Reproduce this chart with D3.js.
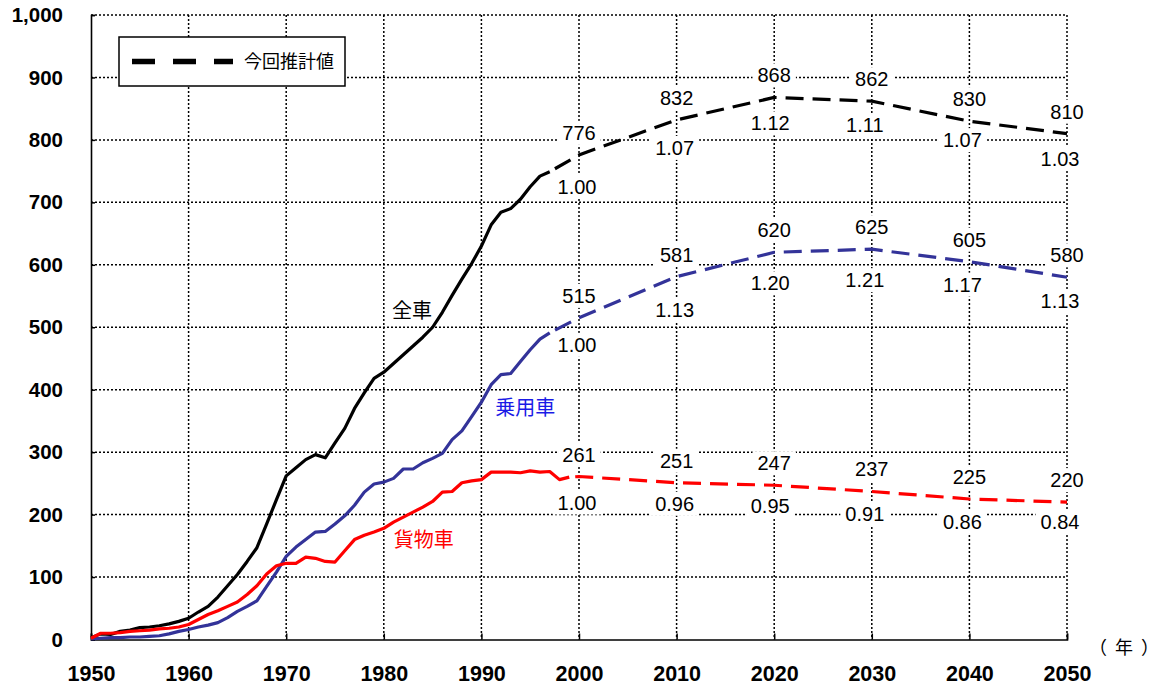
<!DOCTYPE html>
<html><head><meta charset="utf-8">
<script src="https://cdn.jsdelivr.net/npm/d3@7"></script>
<style>
html,body{margin:0;padding:0;background:#fff;}
svg{display:block;}
.num{font-family:"Liberation Sans",Arial,sans-serif;}
.cjk{font-family:"Noto Sans CJK JP",sans-serif;}
</style></head>
<body>
<svg id="c" width="1160" height="688"></svg>
<script>
// ---- data ----
const years = d3.range(1950, 1998); // 1950..1997
const allVehicles = [3,9,8,13,15,19,20,22,25,29,34,44,53,68,86,104,125,147,185,224,262,275,288,296,291,315,338,370,395,418,428,442,456,470,484,500,524,551,577,602,630,664,684,690,705,725,742,749];
const passengerCars = [1,2,3,3,4,4,5,6,9,13,16,20,23,27,35,45,53,62,85,108,133,148,160,172,173,185,198,215,236,249,252,258,273,273,283,290,298,320,334,357,380,408,424,426,445,464,481,491];
const truckYears = d3.range(1950, 2000); // 1950..1999
const trucks = [2,10,10,11,13,14,15,17,18,20,24,32,40,46,53,60,72,86,105,118,122,122,132,130,125,124,142,160,167,172,178,188,196,204,212,221,236,237,251,254,256,268,268,268,267,270,268,269,256,260];

const projYears = [2000, 2010, 2020, 2030, 2040, 2050];
const projAll = [776, 832, 868, 862, 830, 810];
const projPassenger = [515, 581, 620, 625, 605, 580];
const projTrucks = [261, 251, 247, 237, 225, 220];
const ratioAll = ["1.00", "1.07", "1.12", "1.11", "1.07", "1.03"];
const ratioPassenger = ["1.00", "1.13", "1.20", "1.21", "1.17", "1.13"];
const ratioTrucks = ["1.00", "0.96", "0.95", "0.91", "0.86", "0.84"];

const yTicks = [0,100,200,300,400,500,600,700,800,900,1000];
const xTicks = [1950,1960,1970,1980,1990,2000,2010,2020,2030,2040,2050];
const seriesNames = ["全車", "乗用車", "貨物車"];
const legendLabel = "今回推計値";
const xUnit = ["（", "年", "）"];

// ---- layout ----
const X0 = 91, X1 = 1067, Y0 = 639.5, Y1 = 15;
const ratioDy = [[32,28,26,24,19,25],[27,33,31,31,23,24],[26,21,21,23,23,20]];
const ratioDx = [-2,-2,-4,-7,-7,-7];
const nameAnchor = [[1982.9, 526], [1994.5, 371], [1984.1, 159]];

const svg = d3.select("#c");
const x = d3.scaleLinear().domain([1950, 2050]).range([X0, X1]);
const y = d3.scaleLinear().domain([0, 1000]).range([Y0, Y1]);

// grid
const grid = svg.append("g");
grid.selectAll("line.h").data(yTicks.filter(d => d > 0)).join("line")
  .attr("x1", X0).attr("x2", X1).attr("y1", d => y(d)).attr("y2", d => y(d))
  .attr("stroke", "#000").attr("stroke-width", 1.5).attr("stroke-dasharray", "2,2");
grid.selectAll("line.v").data(xTicks.filter(d => d > 1950)).join("line")
  .attr("y1", Y1).attr("y2", Y0).attr("x1", d => x(d)).attr("x2", d => x(d))
  .attr("stroke", "#000").attr("stroke-width", 1.5).attr("stroke-dasharray", "2,2");

// axes
const yAxis = svg.append("g").attr("transform", `translate(${X0},0)`)
  .call(d3.axisLeft(y).tickValues(yTicks).tickSize(-4).tickPadding(28).tickFormat(d3.format(",")));
const xAxis = svg.append("g").attr("transform", `translate(0,${Y0})`)
  .call(d3.axisBottom(x).tickValues(xTicks).tickSize(-6).tickPadding(26).tickFormat(d3.format("d")));
[yAxis, xAxis].forEach(a => {
  a.select(".domain").attr("stroke", "#000").attr("stroke-width", 1.6);
  a.selectAll(".tick line").attr("stroke", "#000").attr("stroke-width", 1.5);
  a.selectAll("text").attr("class", "num").attr("font-weight", "bold").attr("fill", "#000");
});
yAxis.selectAll("text").attr("font-size", 20.5);
xAxis.selectAll("text").attr("font-size", 21.5);

// unit label （年）
svg.append("g").selectAll("text").data(xUnit).join("text").attr("class", "cjk")
  .attr("x", (d, i) => 1098 + i * 26).attr("y", 648).attr("dy", "0.35em")
  .attr("text-anchor", "middle").attr("font-size", 18).text(d => d);

// label backgrounds layer (masks grid)
const bgLayer = svg.append("g");
const lineLayer = svg.append("g");
const textLayer = svg.append("g");

const series = [
  {yrs: years, vals: allVehicles, proj: projAll, ratio: ratioAll, color: "#000", nameColor: "#000"},
  {yrs: years, vals: passengerCars, proj: projPassenger, ratio: ratioPassenger, color: "#333399", nameColor: "#1a1ae6"},
  {yrs: truckYears, vals: trucks, proj: projTrucks, ratio: ratioTrucks, color: "#ff0000", nameColor: "#ff0000"}
];

const line = d3.line().x(d => x(d[0])).y(d => y(d[1]));

function addLabel(tx, ty, txt, fs, color, cls) {
  const t = textLayer.append("text").attr("class", cls).attr("x", tx).attr("y", ty)
    .attr("dy", "0.35em").attr("text-anchor", "middle").attr("font-size", fs)
    .attr("fill", color).text(txt);
  const b = t.node().getBBox();
  bgLayer.append("rect").attr("x", b.x - 5).attr("y", b.y - 1).attr("width", b.width + 10)
    .attr("height", b.height + 2).attr("fill", "#fff");
}

series.forEach((s, i) => {
  const hist = s.yrs.map((yr, k) => [yr, s.vals[k]]);
  lineLayer.append("path").datum(hist).attr("d", line).attr("fill", "none")
    .attr("stroke", s.color).attr("stroke-width", 3.2).attr("stroke-linejoin", "round");
  const last = hist[hist.length - 1];
  const proj = [last].concat(projYears.map((yr, k) => [yr, s.proj[k]]));
  lineLayer.append("path").datum(proj).attr("d", line).attr("fill", "none")
    .attr("stroke", s.color).attr("stroke-width", 3.2).attr("stroke-dasharray", "18,9")
    .attr("stroke-dashoffset", -6);
  projYears.forEach((yr, k) => {
    addLabel(x(yr), y(s.proj[k]) - 22, String(s.proj[k]), 20, "#000", "num");
    addLabel(x(yr) + ratioDx[k], y(s.proj[k]) + ratioDy[i][k], s.ratio[k], 20, "#000", "num");
  });
  textLayer.append("text").attr("class", "cjk").attr("x", x(nameAnchor[i][0])).attr("y", y(nameAnchor[i][1]))
    .attr("dy", "0.35em").attr("text-anchor", "middle").attr("font-size", 20)
    .attr("fill", s.nameColor).text(seriesNames[i]);
});

// legend
const lg = svg.append("g");
lg.append("rect").attr("x", 119).attr("y", 37).attr("width", 226).attr("height", 49)
  .attr("fill", "#fff").attr("stroke", "#000").attr("stroke-width", 1.5);
lg.append("line").attr("x1", 132).attr("x2", 233).attr("y1", 61.5).attr("y2", 61.5)
  .attr("stroke", "#000").attr("stroke-width", 5.5).attr("stroke-dasharray", "23,18");
lg.append("text").attr("class", "cjk").attr("x", 244).attr("y", 61.5).attr("dy", "0.35em")
  .attr("font-size", 18).text(legendLabel);
</script>
</body></html>
